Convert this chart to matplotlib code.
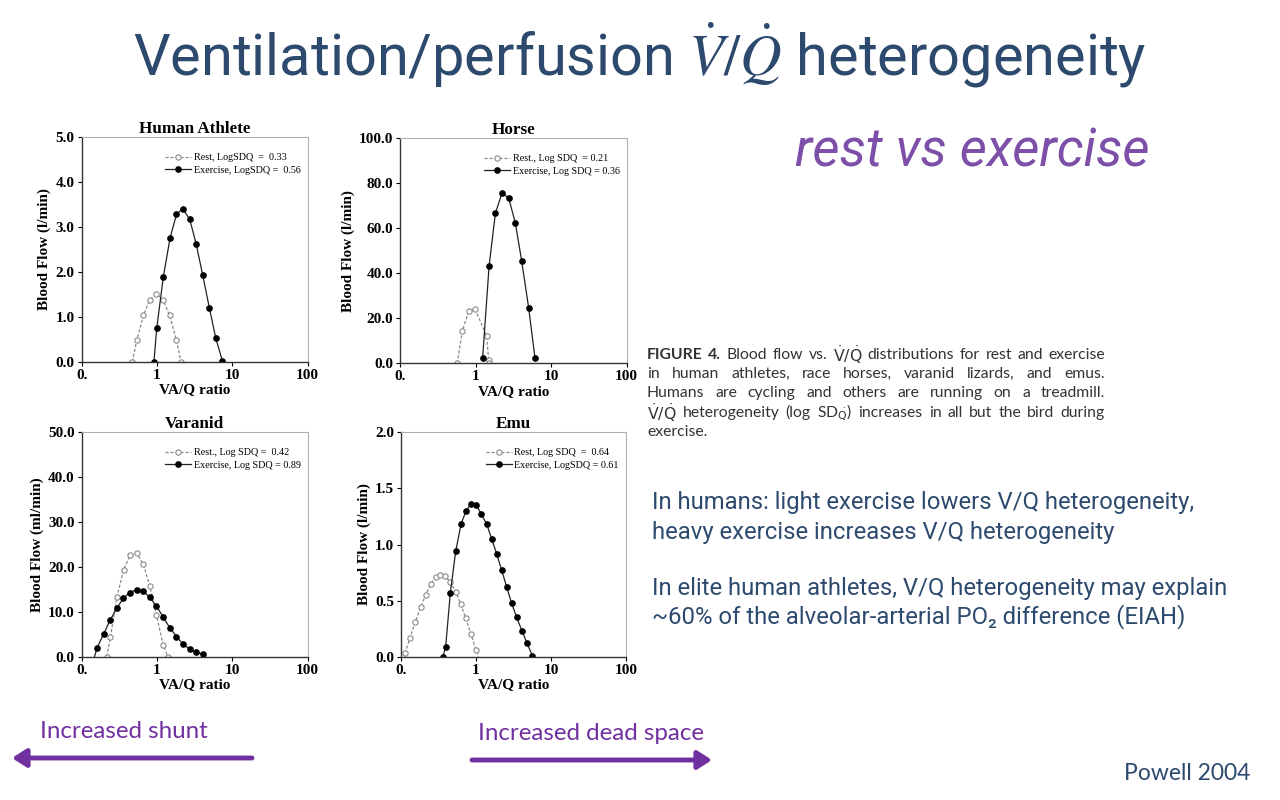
import numpy as np
import matplotlib
matplotlib.use('Agg')
import matplotlib.pyplot as plt
from matplotlib.patches import FancyArrowPatch

plt.rcParams['mathtext.fontset'] = 'stix'

# ---- DATA ----
human_rest_x = [0.47, 0.54, 0.66, 0.80, 0.98, 1.20, 1.47, 1.81, 2.08]
human_rest_y = [0.0, 0.49, 1.03, 1.38, 1.51, 1.38, 1.03, 0.48, 0.0]
human_ex_x = [0.91, 0.99, 1.21, 1.49, 1.81, 2.19, 2.72, 3.30, 4.04, 4.95, 6.01, 7.36]
human_ex_y = [0.0, 0.74, 1.88, 2.76, 3.28, 3.41, 3.17, 2.63, 1.93, 1.20, 0.53, 0.02]

horse_rest_x = [0.57, 0.67, 0.81, 0.99, 1.40, 1.49, 1.49]
horse_rest_y = [0.0, 14.5, 23.1, 24.0, 12.1, 1.6, 0.0]
horse_ex_x = [1.24, 1.51, 1.83, 2.24, 2.74, 3.36, 4.07, 5.04, 6.11]
horse_ex_y = [2.4, 43.3, 66.7, 75.7, 73.5, 62.4, 45.6, 24.7, 2.4]

varanid_rest_x = [0.215, 0.240, 0.292, 0.361, 0.443, 0.537, 0.659, 0.80, 0.98, 1.20, 1.39]
varanid_rest_y = [0.0, 4.3, 13.2, 19.4, 22.7, 23.1, 20.6, 15.8, 9.4, 2.7, 0.0]
varanid_ex_x = [0.148, 0.16, 0.196, 0.238, 0.292, 0.357, 0.434, 0.537, 0.659, 0.80, 0.98,
                1.21, 1.47, 1.81, 2.21, 2.71, 3.29, 4.04]
varanid_ex_y = [0.0, 2.0, 5.1, 8.1, 10.8, 13.0, 14.3, 14.9, 14.6, 13.2, 11.3,
                8.8, 6.5, 4.5, 2.8, 1.7, 1.0, 0.6]

emu_rest_x = [0.113, 0.132, 0.155, 0.183, 0.213, 0.249, 0.29, 0.331, 0.386, 0.455,
              0.536, 0.625, 0.728, 0.857, 1.0, 1.08]
emu_rest_y = [0.03, 0.17, 0.31, 0.44, 0.55, 0.65, 0.71, 0.73, 0.72, 0.665,
              0.58, 0.47, 0.345, 0.20, 0.06, 0.0]
emu_ex_x = [0.363, 0.394, 0.455, 0.536, 0.631, 0.736, 0.858, 1.01, 1.18, 1.39,
            1.62, 1.89, 2.2, 2.57, 2.99, 3.49, 4.1, 4.79, 5.64]
emu_ex_y = [0.0, 0.09, 0.57, 0.94, 1.18, 1.30, 1.36, 1.35, 1.27, 1.18,
            1.05, 0.915, 0.77, 0.62, 0.475, 0.35, 0.23, 0.12, 0.01]

x_ticks = [0.1, 1, 10, 100]
x_ticklabels = ['0.', '1', '10', '100']

panels = [
    # title, rest xy, exercise xy, legend labels, ylabel, ymax, ystep, box(px), exercise markevery
    ('Human Athlete', human_rest_x, human_rest_y, human_ex_x, human_ex_y,
     'Rest, LogSDQ  =  0.33', 'Exercise, LogSDQ =  0.56', 'Blood Flow (l/min)', 5.0, 1.0,
     [81.7, 137.3, 307.7, 361.7], None),
    ('Horse', horse_rest_x, horse_rest_y, horse_ex_x, horse_ex_y,
     'Rest., Log SDQ  = 0.21', 'Exercise, Log SDQ = 0.36', 'Blood Flow (l/min)', 100.0, 20.0,
     [400.0, 138.3, 626.7, 363.3], None),
    ('Varanid', varanid_rest_x, varanid_rest_y, varanid_ex_x, varanid_ex_y,
     'Rest., Log SDQ =  0.42', 'Exercise, Log SDQ = 0.89', 'Blood Flow (ml/min)', 50.0, 10.0,
     [81.7, 432.3, 307.7, 656.7], slice(1, None)),
    ('Emu', emu_rest_x, emu_rest_y, emu_ex_x, emu_ex_y,
     'Rest, Log SDQ  =  0.64', 'Exercise, LogSDQ = 0.61', 'Blood Flow (l/min)', 2.0, 0.5,
     [401.0, 432.3, 626.0, 656.7], None),
]

W, H = 1280, 800
serif = 'Liberation Serif'

fig = plt.figure(figsize=(12.8, 8), dpi=100)

for (title, rx, ry, ex, ey, lab_r, lab_e, ylab, ymax, ystep, box, mev) in panels:
    x0, y0, x1, y1 = box
    ax = fig.add_axes([x0 / W, 1 - y1 / H, (x1 - x0) / W, (y1 - y0) / H])

    rest_mev = None
    if title == 'Emu':
        rest_mev = slice(0, len(rx) - 1)
    ax.plot(rx, ry, color='#8a8a8a', ls=(0, (2.5, 1.5)), lw=0.9,
            marker='o', ms=3.8, mfc='white', mec='#8a8a8a', mew=0.8,
            markevery=rest_mev, label=lab_r)
    ax.plot(ex, ey, color='#222222', ls='-', lw=0.9,
            marker='o', ms=3.8, mfc='black', mec='black',
            markevery=mev, label=lab_e)

    ax.set_xscale('log')
    ax.set_xlim(0.1, 100)
    ax.set_ylim(0, ymax)
    ax.set_xticks(x_ticks)
    ax.set_xticklabels(x_ticklabels)
    ax.xaxis.set_minor_locator(matplotlib.ticker.NullLocator())
    ax.set_yticks(np.arange(0, ymax + ystep / 2, ystep))
    ax.yaxis.set_major_formatter(matplotlib.ticker.FormatStrFormatter('%.1f'))

    for lbl in ax.get_xticklabels() + ax.get_yticklabels():
        lbl.set_family(serif)
        lbl.set_fontweight('bold')
        lbl.set_fontsize(11)
    ax.tick_params(length=3, width=0.8, pad=2, direction='out', color='black')

    for s in ['left', 'bottom']:
        ax.spines[s].set_color('#333333')
        ax.spines[s].set_linewidth(1.0)
    for s in ['top', 'right']:
        ax.spines[s].set_color('#b0b0b0')
        ax.spines[s].set_linewidth(0.8)

    ax.set_title(title, family=serif, fontweight='bold', fontsize=12.3, pad=3)
    ax.set_xlabel('VA/Q ratio', family=serif, fontweight='bold', fontsize=11, labelpad=1)
    ax.set_ylabel(ylab, family=serif, fontweight='bold', fontsize=11, labelpad=3)

    leg = ax.legend(loc='upper right', frameon=False, prop={'family': serif, 'size': 7.3},
                    handlelength=2.6, handletextpad=0.25, labelspacing=0.3,
                    borderaxespad=0.3, bbox_to_anchor=(1.0, 0.96))

# ---- slide text ----
blue = '#2d4a6e'
purple_light = '#7d4fa8'
purple = '#7030a0'

fig.text(0.5, 1 - 55 / H, r'Ventilation/perfusion $\dot{V}/\dot{Q}$ heterogeneity',
         ha='center', va='center', fontsize=41.5, color=blue, family='Roboto')

fig.text(972 / W, 1 - 152 / H, 'rest vs exercise', ha='center', va='center',
         fontsize=38, color=purple_light, family='Roboto', style='italic')

# caption, justified word by word
cap_font = ['Lato', 'DejaVu Sans']
cap_size = 11.3
cap_col = '#333333'
vq = r'$\dot{\mathrm{V}}/\dot{\mathrm{Q}}$'
cap_lines = [
    'FIGURE 4. Blood flow vs. ' + vq + ' distributions for rest and exercise',
    'in human athletes, race horses, varanid lizards, and emus.',
    'Humans are cycling and others are running on a treadmill.',
    vq + r' heterogeneity (log SD$_{\dot{\mathrm{Q}}}$) increases in all but the bird during',
    'exercise.',
]
cap_left, cap_right = 647, 1105
renderer = fig.canvas.get_renderer()
for i, line in enumerate(cap_lines):
    yy = 1 - (355 + 19.2 * i) / H
    words = line.split(' ')
    objs = []
    for j, w in enumerate(words):
        bold = (i == 0 and j < 2)
        t = fig.text(0, yy, w, ha='left', va='center', fontsize=cap_size, color=cap_col,
                     family=cap_font, fontweight='bold' if bold else 'normal',
                     math_fontfamily='dejavusans')
        objs.append(t)
    widths = [t.get_window_extent(renderer).width for t in objs]
    if i < len(cap_lines) - 1:
        gap = (cap_right - cap_left - sum(widths)) / (len(words) - 1)
    else:
        gap = 3.5
    xx = cap_left
    for t, wdt in zip(objs, widths):
        t.set_x(xx / W)
        xx += wdt + gap

right_lines = [
    ('In humans: light exercise lowers V/Q heterogeneity,', 503),
    ('heavy exercise increases V/Q heterogeneity', 532),
    ('In elite human athletes, V/Q heterogeneity may explain', 589),
    ('~60% of the alveolar-arterial PO\u2082 difference (EIAH)', 617),
]
for txt, yy in right_lines:
    fig.text(652 / W, 1 - yy / H, txt, ha='left', va='center', fontsize=17.2,
             color=blue, family=['Roboto', 'DejaVu Sans'])

fig.text(40 / W, 1 - 732 / H, 'Increased shunt', ha='left', va='center',
         fontsize=17.4, color=purple, family='Lato')
fig.text(478 / W, 1 - 734 / H, 'Increased dead space', ha='left', va='center',
         fontsize=17.4, color=purple, family='Lato')

for (xa, xb, ya) in [(252, 12, 758), (472, 712, 760)]:
    fig.add_artist(FancyArrowPatch((xa / W, 1 - ya / H), (xb / W, 1 - ya / H),
                                   transform=fig.transFigure, color=purple, lw=3.5,
                                   arrowstyle='-|>,head_length=0.7,head_width=0.45',
                                   mutation_scale=12, shrinkA=0, shrinkB=0))

fig.text(1250 / W, 1 - 773 / H, 'Powell 2004', ha='right', va='center',
         fontsize=16.5, color=blue, family='Lato')

plt.savefig('out.png', dpi=100)
plt.close()
